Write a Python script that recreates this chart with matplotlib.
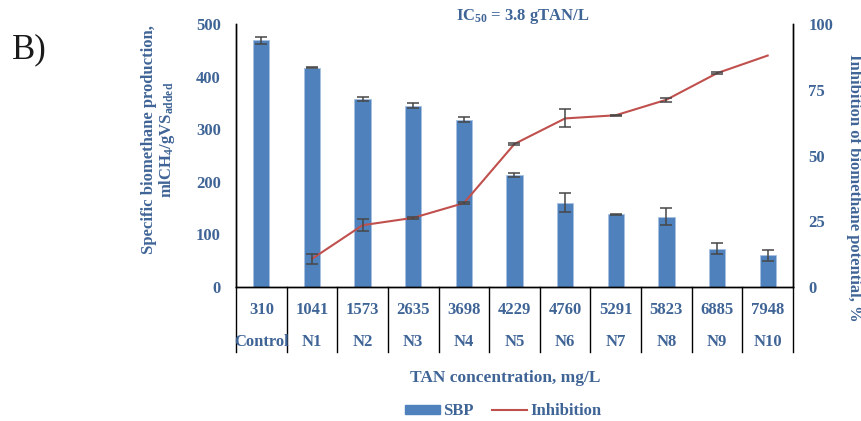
import matplotlib
matplotlib.use("Agg")
import matplotlib.pyplot as plt
import matplotlib.transforms as mtransforms
from matplotlib.patches import Patch
from matplotlib.lines import Line2D
import numpy as np

# ---- data ----
groups = ["Control", "N1", "N2", "N3", "N4", "N5", "N6", "N7", "N8", "N9", "N10"]
tan_conc = ["310", "1041", "1573", "2635", "3698", "4229", "4760", "5291", "5823", "6885", "7948"]
sbp = [469, 417, 357, 345, 318, 213, 160, 138, 134, 73, 60]
sbp_err = [7, 0.8, 3.8, 5.4, 4.4, 3, 18, 1.5, 17, 10, 11]
inhib_groups = ["N1", "N2", "N3", "N4", "N5", "N6", "N7", "N8", "N9", "N10"]
inhibition = [10.7, 23.5, 26.3, 31.9, 54.4, 64.1, 65.3, 71.2, 81.3, 88.0]
inhibition_err = [1.8, 2.2, 0.3, 0.3, 0.4, 3.4, 0.2, 0.8, 0.3, np.nan]

TXT = "#3F6496"
BAR = "#4F81BD"
RED = "#C0504D"
ERR = "#474747"

plt.rcParams['font.family'] = ['Liberation Serif', 'DejaVu Serif']
plt.rcParams['font.weight'] = 'bold'
plt.rcParams['mathtext.fontset'] = 'custom'
plt.rcParams['mathtext.rm'] = 'Liberation Serif:bold'
plt.rcParams['mathtext.it'] = 'Liberation Serif:bold'
plt.rcParams['mathtext.bf'] = 'Liberation Serif:bold'

fig = plt.figure(figsize=(8.62, 4.21), dpi=100)
ax = fig.add_axes([236/862, 1-287/421, (793-236)/862, (287-24)/421])
ax2 = ax.twinx()

x = np.arange(len(groups))
ax.bar(x, sbp, width=0.32, color=BAR, edgecolor="#A9C1E0", linewidth=0.6, zorder=2)
ax.errorbar(x, sbp, yerr=sbp_err, fmt='none', ecolor=ERR, elinewidth=1.1,
            capsize=4, capthick=1.1, zorder=3)

xi = np.array([groups.index(g) for g in inhib_groups])
ax2.plot(xi, inhibition, color=RED, lw=1.5, zorder=2)
ax2.errorbar(xi, inhibition, yerr=inhibition_err, fmt='none',
             ecolor=ERR, elinewidth=1.1, capsize=4, capthick=1.1, zorder=3)

ax.set_xlim(-0.5, len(groups) - 0.5)
ax.set_ylim(0, 500)
ax2.set_ylim(0, 100)
ax.set_yticks([0, 100, 200, 300, 400, 500])
ax2.set_yticks([0, 25, 50, 75, 100])
ax.set_xticks([])

for a in (ax, ax2):
    a.spines['top'].set_visible(False)
    for s in a.spines.values():
        s.set_color('black')
        s.set_linewidth(1.0)
ax.tick_params(axis='y', length=0, pad=11, labelsize=12, labelcolor=TXT)
ax2.tick_params(axis='y', length=0, pad=11, labelsize=12, labelcolor=TXT)
for lab in ax.get_yticklabels() + ax2.get_yticklabels():
    lab.set_fontweight('bold')

# table under the axis
trans = mtransforms.blended_transform_factory(ax.transData, ax.transAxes)
row_bottom = (287 - 352) / 263.0
for b in np.arange(-0.5, len(groups) + 0.5, 1.0):
    ax.plot([b, b], [0, row_bottom], color='black', lw=1.0, transform=trans, clip_on=False)
y_num = (287 - 310) / 263.0
y_lab = (287 - 341.5) / 263.0
for i in range(len(groups)):
    ax.text(i, y_num, tan_conc[i], transform=trans, ha='center', va='center',
            fontsize=12, color=TXT, fontweight='bold')
    ax.text(i, y_lab, groups[i], transform=trans, ha='center', va='center',
            fontsize=12, color=TXT, fontweight='bold')

# labels
fig.text(159/862, 1-140/421, "Specific biomethane production,\nmlCH$_4$/gVS$_{\\mathrm{added}}$",
         rotation=90, ha='center', va='center', ma='center', fontsize=12,
         color=TXT, fontweight='bold', linespacing=1.0)
fig.text(854/862, 1-188/421, "Inhibition of biomethane potential, %", rotation=270,
         ha='center', va='center', fontsize=12, color=TXT, fontweight='bold')
fig.text(523/862, 1-17/421, "IC$_{50}$ = 3.8 gTAN/L", ha='center', va='center',
         fontsize=12, color=TXT, fontweight='bold')
fig.text(505/862, 1-378/421, "TAN concentration, mg/L", ha='center', va='center',
         fontsize=12.5, color=TXT, fontweight='bold')
fig.text(12/862, 1-50/421, "B)", ha='left', va='center', fontsize=25,
         color='#1a1a1a', fontweight='normal')

handles = [Patch(facecolor=BAR, edgecolor=BAR), Line2D([0], [0], color=RED, lw=1.5)]
leg = fig.legend(handles, ["SBP", "Inhibition"], loc='center', ncol=2,
                 bbox_to_anchor=(503/862, 1-411/421), frameon=False,
                 handlelength=2.1, handleheight=0.45, handletextpad=0.2,
                 columnspacing=1.1, prop={'size': 12, 'weight': 'bold'})
for t in leg.get_texts():
    t.set_color(TXT)

fig.savefig("out.png", dpi=100)
